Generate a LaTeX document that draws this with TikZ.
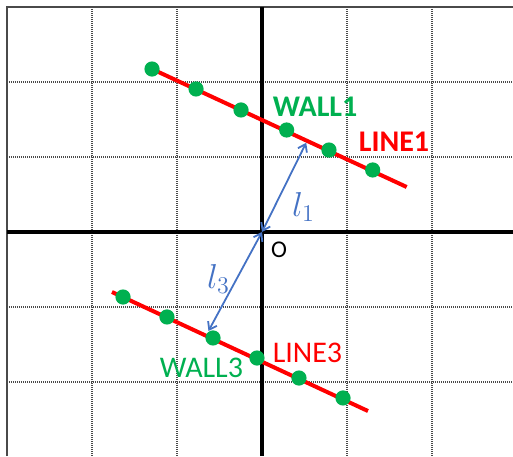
\documentclass[tikz,border=0pt]{standalone}
\usepackage{fontspec}
\setmainfont{Carlito}
\usetikzlibrary{arrows.meta}
\definecolor{wallgreen}{HTML}{00B050}
\definecolor{linered}{HTML}{FF0000}
\definecolor{distblue}{HTML}{4472C4}
\definecolor{gridgray}{HTML}{4A4A4A}

\tikzset{
  walldot/.style={circle, fill=wallgreen, inner sep=0pt, minimum size=7.6pt},
  wallline/.style={linered, line width=2pt},
  distarrow/.style={distblue, line width=0.9pt,
    {Straight Barb[length=3.5pt,width=5pt]}-{Straight Barb[length=3.5pt,width=5pt]}},
  gridline/.style={gridgray, line width=1pt, dash pattern=on 0.5pt off 0.5pt},
}

\begin{document}
\begin{tikzpicture}[x=42.5pt, y=37.5pt, font=\fontsize{15}{18}\selectfont]
      \useasboundingbox (-3.0824,-2.9867) rectangle (2.9529,3.0933);

      % grid and frame
      \foreach \gx in {-2,-1,1,2}
        \draw[gridline] (\gx,3) -- (\gx,-2.9867);
      \foreach \gy in {-2,-1,1,2}
        \draw[gridline] (-3,\gy) -- (2.9529,\gy);
      \draw[gridgray, line width=1pt] (-3,-2.9867) -- (-3,3) -- (2.9529,3);

      % axes
      \draw[line width=1.6pt] (-3,0) -- (2.9529,0);
      \draw[line width=1.6pt] (0,3) -- (0,-2.9867);
      \coordinate (O) at (0,0);
      \node[font=\fontsize{12}{14}\selectfont] (olabel) at (0.2,-0.24) {O};

      % line 1
      \coordinate (line1start) at (-1.294,2.173);
      \coordinate (line1end) at (1.702,0.6);
      \draw[wallline] (line1start) -- (line1end);
      \node[walldot] (w1a) at (line1start) {};
      \node[walldot] (w1b) at (-0.776,1.907) {};
      \node[walldot] (w1c) at (-0.247,1.627) {};
      \node[walldot] (w1d) at (0.290,1.360) {};
      \node[walldot] (w1e) at (0.788,1.093) {};
      \node[walldot] (w1f) at (1.302,0.827) {};
      \node[text=wallgreen, font=\fontsize{15}{18}\selectfont\bfseries]
        (wall1) at (0.624,1.667) {WALL1};
      \node[text=linered, font=\fontsize{15}{18}\selectfont\bfseries]
        (line1) at (1.553,1.200) {LINE1};

      % line 3
      \coordinate (line3start) at (-1.765,-0.800);
      \coordinate (line3end) at (1.247,-2.387);
      \draw[wallline] (line3start) -- (line3end);
      \node[walldot] (w3a) at (-1.635,-0.867) {};
      \node[walldot] (w3b) at (-1.118,-1.133) {};
      \node[walldot] (w3c) at (-0.576,-1.413) {};
      \node[walldot] (w3d) at (-0.059,-1.680) {};
      \node[walldot] (w3e) at (0.435,-1.947) {};
      \node[walldot] (w3f) at (0.953,-2.213) {};
      \node[text=wallgreen] (wall3) at (-0.712,-1.807) {WALL3};
      \node[text=linered] (line3) at (0.535,-1.613) {LINE3};

      % distances
      \coordinate (foot1) at (0.52,1.19);
      \coordinate (foot3) at (-0.63,-1.32);
      \draw[distarrow] (O) -- (foot1);
      \draw[distarrow] (O) -- (foot3);
      \node[text=distblue, font=\fontsize{17}{20}\selectfont] (dist1) at (0.488,0.333) {$l_1$};
      \node[text=distblue, font=\fontsize{17}{20}\selectfont] (dist3) at (-0.512,-0.627) {$l_3$};
    \end{tikzpicture}
\end{document}
